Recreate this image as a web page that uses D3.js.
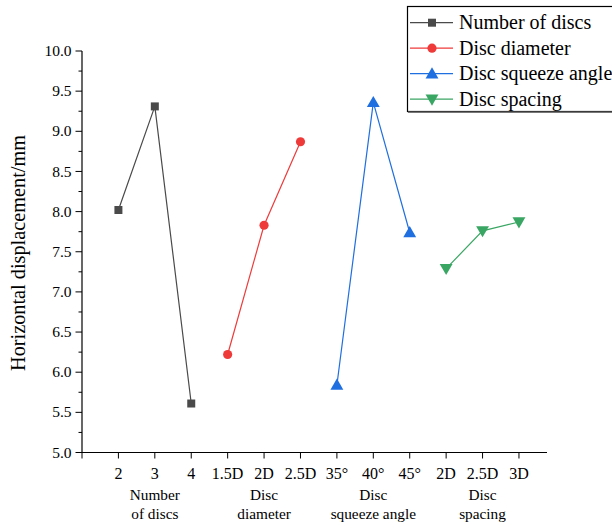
<!DOCTYPE html>
<html><head><meta charset="utf-8">
<script src="https://cdn.jsdelivr.net/npm/d3@7"></script>
<style>body{margin:0;background:#fff}svg{display:block}</style>
</head><body><svg id="c" width="612" height="522" font-family="'Liberation Serif', 'Times New Roman', 'DejaVu Serif', serif"></svg>
<script>
const tickLabels = ["2","3","4","1.5D","2D","2.5D","35°","40°","45°","2D","2.5D","3D"];
const groupLabels = [["Number","of discs"],["Disc","diameter"],["Disc","squeeze angle"],["Disc","spacing"]];
const seriesNames = ["Number of discs","Disc diameter","Disc squeeze angle","Disc spacing"];
const numberOfDiscs = [8.02, 9.31, 5.61];
const discDiameter = [6.22, 7.83, 8.87];
const squeezeAngle = [5.84, 9.36, 7.74];
const discSpacing = [7.29, 7.76, 7.87];
const colors = ["#4a4a4a","#ef3a3a","#1f6fe0","#3aa663"];
const symbols = [d3.symbolSquare, d3.symbolCircle, d3.symbolTriangle, d3.symbolTriangle];
const yTicks = [5.0,5.5,6.0,6.5,7.0,7.5,8.0,8.5,9.0,9.5,10.0];

const series = [numberOfDiscs, discDiameter, squeezeAngle, discSpacing];
const svg = d3.select("#c");
const x = d3.scaleLinear().domain([0, 12.77]).range([82, 547]);
const y = d3.scaleLinear().domain([5, 10]).range([452.5, 51]);

const ga = svg.append("g");
ga.append("line").attr("x1",82).attr("x2",82).attr("y1",y(10)).attr("y2",y(5)).attr("stroke","#000").attr("stroke-width",1.2);
ga.append("line").attr("x1",82).attr("x2",547).attr("y1",y(5)).attr("y2",y(5)).attr("stroke","#000").attr("stroke-width",1.2);
d3.range(5,10.001,0.25).forEach(v=>{
  const major = Math.abs(v*2-Math.round(v*2))<1e-6;
  ga.append("line").attr("x1",82).attr("x2",major?75.5:78.5).attr("y1",y(v)).attr("y2",y(v)).attr("stroke","#000").attr("stroke-width",1);
});
yTicks.forEach(v=>{
  ga.append("text").attr("x",71.5).attr("y",y(v)).attr("dy","0.33em").attr("text-anchor","end").attr("font-size",15.5).text(v.toFixed(1));
});
tickLabels.forEach((t,i)=>{
  const xx = x(i+1);
  ga.append("line").attr("x1",xx).attr("x2",xx).attr("y1",y(5)).attr("y2",y(5)+6).attr("stroke","#000").attr("stroke-width",1);
  ga.append("text").attr("x",xx).attr("y",479).attr("text-anchor","middle").attr("font-size",16).text(t);
});
ga.append("line").attr("x1",82).attr("x2",82).attr("y1",y(5)).attr("y2",y(5)+6).attr("stroke","#000").attr("stroke-width",1);
groupLabels.forEach((g,k)=>{
  const xx = x(k*3+2);
  g.forEach((s,j)=>{
    ga.append("text").attr("x",xx).attr("y",500+j*19).attr("text-anchor","middle").attr("font-size",15.3).text(s);
  });
});
svg.append("text").attr("transform","translate(25,253) rotate(-90)").attr("text-anchor","middle").attr("font-size",20.3).text("Horizontal displacement/mm");

const line = d3.line().x(d=>x(d.i)).y(d=>y(d.v));
const sizes = [64, 66, 72, 72];
series.forEach((s,k)=>{
  const pts = s.map((v,j)=>({i:k*3+j+1, v}));
  svg.append("path").datum(pts).attr("d",line).attr("fill","none").attr("stroke",colors[k]).attr("stroke-width",1.2);
  pts.forEach(p=>{
    svg.append("path").attr("d",d3.symbol().type(symbols[k]).size(sizes[k])())
      .attr("transform",`translate(${x(p.i)},${y(p.v)+(k===2?1:(k===3?-1:0))})${k===3?" rotate(180)":""}`)
      .attr("fill",colors[k]);
  });
});

const lg = svg.append("g");
lg.append("rect").attr("x",407.5).attr("y",6.5).attr("width",215).attr("height",105).attr("fill","#fff").attr("stroke","#000").attr("stroke-width",1.2);
lg.append("line").attr("x1",408).attr("x2",622).attr("y1",112.3).attr("y2",112.3).attr("stroke","#777").attr("stroke-width",1.5);
seriesNames.forEach((n,k)=>{
  const yy = 22.7+k*25.5;
  lg.append("line").attr("x1",410).attr("x2",453).attr("y1",yy).attr("y2",yy).attr("stroke",colors[k]).attr("stroke-width",1.2);
  lg.append("path").attr("d",d3.symbol().type(symbols[k]).size(sizes[k])())
    .attr("transform",`translate(432,${yy+(k===2?1:(k===3?-1:0))})${k===3?" rotate(180)":""}`).attr("fill",colors[k]);
  lg.append("text").attr("x",459).attr("y",yy).attr("dy","0.33em").attr("font-size",20).text(n);
});
</script></body></html>
